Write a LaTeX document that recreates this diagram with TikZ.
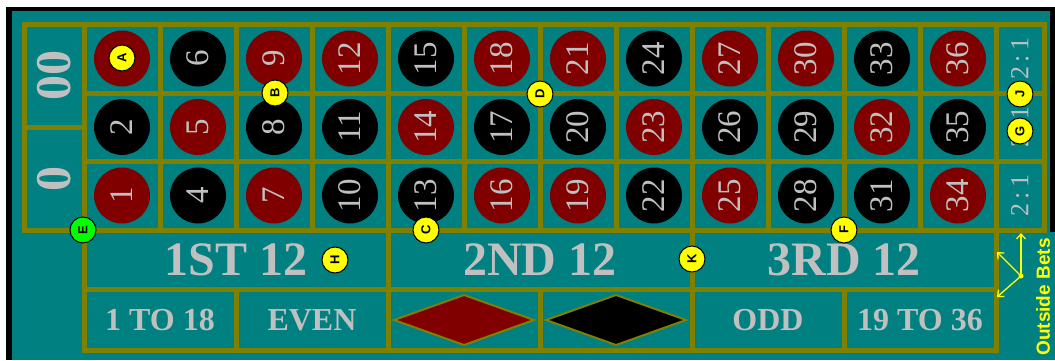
\documentclass[tikz,border=0pt]{standalone}
\usepackage{fontspec}
\setmainfont{Liberation Serif}
\newfontfamily\sansf{Liberation Sans}
\usetikzlibrary{arrows.meta}
\definecolor{felt}{HTML}{008080}
\definecolor{rim}{HTML}{808000}
\definecolor{rouge}{HTML}{800000}
\definecolor{noir}{HTML}{000000}
\definecolor{silver}{HTML}{C0C0C0}
\definecolor{chipy}{HTML}{FFFF00}
\definecolor{chipg}{HTML}{00FF00}
\tikzset{
  gridline/.style={draw=rim, line width=5pt, line cap=rect},
  num/.style={circle, minimum size=56pt, inner sep=0pt, rotate=90, text=silver,
    font=\fontsize{33}{33}\selectfont},
  zero/.style={rotate=90, text=silver, inner sep=0pt, font=\bfseries\fontsize{50}{50}\selectfont},
  dozen/.style={text=silver, inner sep=0pt, font=\bfseries\fontsize{48}{48}\selectfont},
  outside/.style={text=silver, inner sep=0pt, font=\bfseries\fontsize{32}{32}\selectfont},
  colbet/.style={rotate=90, text=silver, inner sep=0pt, font=\fontsize{26}{26}\selectfont},
  chip/.style={circle, fill=chipy, draw=black, line width=1pt, minimum size=26pt, inner sep=0pt,
    rotate=90, font=\sansf\bfseries\fontsize{13}{13}\selectfont},
  diam/.style={draw=rim, line width=2pt, line join=miter},
  pointer/.style={draw=chipy, line width=1.3pt, -{Straight Barb[length=5pt,width=9pt]}},
}
\begin{document}
\begin{tikzpicture}[x=1pt,y=-1pt]
\useasboundingbox (0,0) rectangle (1055,360);
% background and frame
\fill[white] (0,0) rectangle (1055,360);
\fill[black] (6,7) rectangle (1055,360);
\fill[felt] (12,11) rectangle (1050,360);
\fill[felt] (1049,232) rectangle (1055,360);
% diamonds
\fill[rouge] (394,320) -- (464,295) -- (534,320) -- (464,345) -- cycle;
\draw[diam] (394,320) -- (464,295) -- (534,320) -- (464,345) -- cycle;
\fill[noir] (546,320) -- (616,295) -- (686,320) -- (616,345) -- cycle;
\draw[diam] (546,320) -- (616,295) -- (686,320) -- (616,345) -- cycle;
% grid
\draw[gridline] (24,24) rectangle (1044,230);
\draw[gridline] (24,127) -- (84,127);
\foreach \x in {84,160,236,312,388,464,540,616,692,768,844,920,996}
  \draw[gridline] (\x,24) -- (\x,230);
\draw[gridline] (84,93) -- (1044,93);
\draw[gridline] (84,161) -- (1044,161);
\draw[gridline] (84,230) rectangle (996,350);
\draw[gridline] (84,289) -- (996,289);
\foreach \x in {388,692} \draw[gridline] (\x,230) -- (\x,289);
\foreach \x in {236,388,540,692,844} \draw[gridline] (\x,289) -- (\x,350);
% zeros
\node[zero] (z00) at (54,75.5) {00};
\node[zero] (z0) at (54,178.5) {0};
% numbers
\foreach \n/\col in {1/rouge,2/noir,3/rouge,4/noir,5/rouge,6/noir,7/rouge,8/noir,9/rouge,
  10/noir,11/noir,12/rouge,13/noir,14/rouge,15/noir,16/rouge,17/noir,18/rouge,
  19/rouge,20/noir,21/rouge,22/noir,23/rouge,24/noir,25/rouge,26/noir,27/rouge,
  28/noir,29/noir,30/rouge,31/noir,32/rouge,33/noir,34/rouge,35/noir,36/rouge}{
  \pgfmathsetmacro\cx{122+76*floor((\n-1)/3)}
  \pgfmathsetmacro\cy{195.5-68.5*mod(\n-1,3)}
  \node[num, fill=\col] (n\n) at (\cx,\cy) {\n};
}
% column bets
\node[colbet] (col3) at (1020,58.5) {2\,:\,1};
\node[colbet] (col2) at (1020,127) {2\,:\,1};
\node[colbet] (col1) at (1020,195.5) {2\,:\,1};
% dozens
\node[dozen] (d1) at (236,260) {1ST 12};
\node[dozen] (d2) at (540,260) {2ND 12};
\node[dozen] (d3) at (844,260) {3RD 12};
% even-money bets
\node[outside] (low) at (160,320) {1 TO 18};
\node[outside] (even) at (312,320) {EVEN};
\node[outside] (odd) at (768,320) {ODD};
\node[outside] (high) at (920,320) {19 TO 36};
% outside bets label and pointers
\node[rotate=90, text=chipy, inner sep=0pt, font=\sansf\bfseries\fontsize{19}{19}\selectfont]
  (obl) at (1043,297) {Outside Bets};
\coordinate (hub) at (1021,276);
\coordinate (tipup) at (1021,233);
\coordinate (tipul) at (997,252);
\coordinate (tipll) at (997,297);
\draw[pointer] (hub) -- (tipup);
\draw[pointer] (hub) -- (tipul);
\draw[pointer] (hub) -- (tipll);
\fill[chipy] (hub) circle (2.5pt);
% chips
\node[chip] (cA) at (122,58) {A};
\node[chip] (cB) at (275,93) {B};
\node[chip] (cC) at (426,230) {C};
\node[chip] (cD) at (540,94) {D};
\node[chip, fill=chipg] (cE) at (83,230) {E};
\node[chip] (cF) at (844,230) {F};
\node[chip] (cG) at (1020,131) {G};
\node[chip] (cH) at (335,260) {H};
\node[chip] (cJ) at (1020,94) {J};
\node[chip] (cK) at (692,259) {K};
\end{tikzpicture}
\end{document}
